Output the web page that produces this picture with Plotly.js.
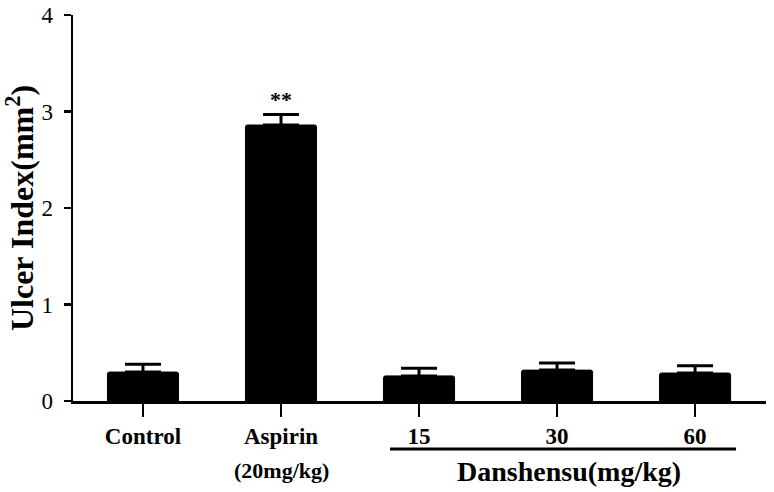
<!DOCTYPE html>
<html>
<head>
<meta charset="utf-8">
<script src="https://cdn.plot.ly/plotly-3.0.1.min.js"></script>
<style>html,body{margin:0;padding:0;background:#fff;}#chart{width:774px;height:492px;}</style>
</head>
<body>
<div id="chart"></div>
<script>
const categories = ["Control", "Aspirin", "15", "30", "60"];
const ulcerIndex = [0.30, 2.86, 0.26, 0.32, 0.29];
const sem = [0.08, 0.11, 0.08, 0.075, 0.075];
const significance = ["", "**", "", "", ""];
const yTicks = [0, 1, 2, 3, 4];
const subLabel = "(20mg/kg)";
const groupLabel = "Danshensu(mg/kg)";

const xIdx = categories.map((c, i) => i);
const serif = "Liberation Serif, Times New Roman, serif";

const trace = {
  type: "bar",
  x: xIdx,
  y: ulcerIndex,
  width: 0.515,
  marker: {color: "#000", line: {color: "#000", width: 1}, cornerradius: 2},
  error_y: {type: "data", array: sem, arrayminus: sem.map(() => 0), symmetric: false,
            color: "#000", thickness: 3, width: 18},
  hoverinfo: "skip"
};

const annotations = [];
significance.forEach((s, i) => {
  if (s) annotations.push({x: i, y: ulcerIndex[i] + sem[i], xref: "x", yref: "y",
    text: s, showarrow: false, yanchor: "bottom", yshift: 0,
    font: {family: serif, size: 22, color: "#000", weight: "bold"}});
});
annotations.push({x: 1, y: 0, xref: "x", yref: "paper", yanchor: "top", yshift: -55,
  text: subLabel, showarrow: false, font: {family: serif, size: 22, color: "#000", weight: "bold"}});
annotations.push({x: 3.087, y: 0, xref: "x", yref: "paper", yanchor: "top", yshift: -53,
  text: groupLabel, showarrow: false, font: {family: serif, size: 28, color: "#000", weight: "bold"}});

const layout = {
  width: 774, height: 492,
  margin: {l: 73, r: 8, t: 15, b: 91},
  paper_bgcolor: "#fff", plot_bgcolor: "#fff",
  showlegend: false,
  xaxis: {
    range: [-0.507, 4.514],
    tickmode: "array", tickvals: xIdx, ticktext: categories,
    ticks: "outside", ticklen: 13, tickwidth: 2.5, tickcolor: "#000",
    showline: true, linecolor: "#000", linewidth: 2.5,
    showgrid: false, zeroline: false,
    tickfont: {family: serif, size: 23, color: "#000", weight: "bold"}
  },
  yaxis: {
    range: [0, 4],
    tickmode: "array", tickvals: yTicks, ticktext: yTicks.map(String),
    ticks: "outside", ticklen: 7, tickwidth: 2.5, tickcolor: "#000",
    ticklabelstandoff: 6,
    showline: true, linecolor: "#000", linewidth: 2.5,
    showgrid: false, zeroline: false,
    tickfont: {family: serif, size: 23, color: "#000"},
    title: {text: "Ulcer Index(mm<sup>2</sup>)", standoff: 6,
            font: {family: serif, size: 32, color: "#000", weight: "bold"}}
  },
  shapes: [{type: "line", xref: "x", yref: "paper", x0: 1.79, x1: 4.297,
            ysizemode: "pixel", yanchor: 0, y0: -48, y1: -48,
            line: {color: "#000", width: 3}}],
  annotations: annotations
};

Plotly.newPlot("chart", [trace], layout, {staticPlot: true, displayModeBar: false});
</script>
</body>
</html>
